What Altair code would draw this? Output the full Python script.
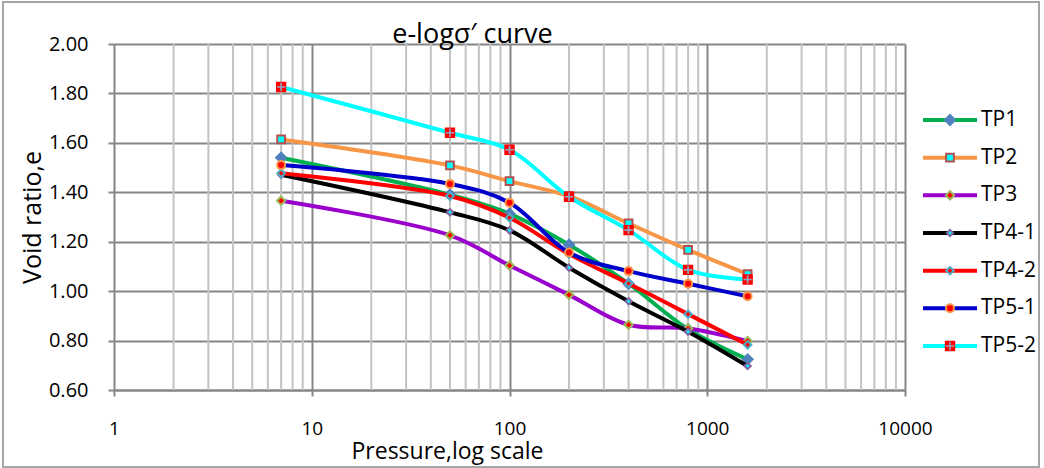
import altair as alt
import pandas as pd

# Consolidation test results: void ratio e at each pressure step
pressure = [7, 50, 100, 200, 400, 800, 1600]
series = ["TP1", "TP2", "TP3", "TP4-1", "TP4-2", "TP5-1", "TP5-2"]
tp1 = [1.540, 1.390, 1.313, 1.188, 1.030, 0.846, 0.724]
tp2 = [1.614, 1.509, 1.445, 1.384, 1.274, 1.167, 1.069]
tp3 = [1.366, 1.226, 1.104, 0.985, 0.864, 0.849, 0.798]
tp4_1 = [1.471, 1.319, 1.246, 1.095, 0.959, 0.836, 0.697]
tp4_2 = [1.477, 1.385, 1.297, 1.150, 1.031, 0.907, 0.783]
tp5_1 = [1.510, 1.434, 1.358, 1.156, 1.081, 1.030, 0.979]
tp5_2 = [1.826, 1.641, 1.572, 1.382, 1.247, 1.086, 1.047]
values = [tp1, tp2, tp3, tp4_1, tp4_2, tp5_1, tp5_2]

x_ticks = [1, 10, 100, 1000, 10000]
x_minor = [m * 10 ** d for d in range(4) for m in range(2, 10)]
y_ticks = [0.6, 0.8, 1.0, 1.2, 1.4, 1.6, 1.8, 2.0]

chart_title = "e-logσ′ curve"

# Series styling
line_colors = ["#00B050", "#F79646", "#9900CC", "#000000", "#FF0000", "#0000CC", "#00FFFF"]
marker_shapes = ["diamond", "square", "diamond", "diamond", "diamond", "circle", "square"]
marker_fills = ["#4F81BD", "#00FFFF", "#FF0000", "#00FFFF", "#FF0000", "#FF0000", "#FF0000"]
marker_strokes = ["#4F81BD", "#B3504D", "#9BBB59", "#8064A2", "#4BACC6", "#F79646", "#FF0000"]
marker_sizes = [100, 60, 70, 40, 55, 64, 70]
plus_path = "M-1,0H1M0,-1V1"

FONT = "Open Sans"
GRID_DARK = "#868686"
GRID_LIGHT = "#C3C3C3"

W, H = 791, 346

df = pd.DataFrame(
    [
        {"series": s, "pressure": p, "e": v}
        for s, vals in zip(series, values)
        for p, v in zip(pressure, vals)
    ]
)

x_scale = alt.Scale(type="log", domain=[1, 10000], nice=False)
y_scale = alt.Scale(domain=[0.6, 2.0], nice=False, zero=False)

x_axis = alt.Axis(
    values=x_ticks, format="d", title="Pressure,log scale",
    grid=True, gridColor=GRID_DARK, gridWidth=2,
    ticks=True, tickColor=GRID_DARK, tickWidth=2, tickSize=6,
    domain=True, domainColor=GRID_DARK, domainWidth=2,
    labelFont=FONT, labelFontSize=19, labelColor="black", labelPadding=23,
    labelFlush=False, labelOverlap=False,
    titleFont=FONT, titleFontSize=23, titleFontWeight="normal", titleColor="black",
    titlePadding=2, titleX=333, titleAlign="center", titleAnchor="start",
)
y_axis = alt.Axis(
    values=y_ticks, format=".2f", title="Void ratio,e",
    grid=True, gridColor=GRID_DARK, gridWidth=2,
    ticks=True, tickColor=GRID_DARK, tickWidth=2, tickSize=6,
    domain=False,
    labelFont=FONT, labelFontSize=20, labelColor="black", labelPadding=20,
    labelFlush=False,
    titleFont=FONT, titleFontSize=25, titleFontWeight="normal", titleColor="black",
    titlePadding=3,
)

X = alt.X("pressure:Q", scale=x_scale, axis=x_axis)
Y = alt.Y("e:Q", scale=y_scale, axis=y_axis)

# Minor logarithmic gridlines
minor = (
    alt.Chart(pd.DataFrame({"pressure": x_minor}))
    .mark_rule(color=GRID_LIGHT, strokeWidth=2)
    .encode(x=X)
)

plot_layers = [minor]
for i, s in enumerate(series):
    sub = df[df["series"] == s]
    base = alt.Chart(sub)
    plot_layers.append(
        base.mark_line(interpolate="catmull-rom", strokeWidth=4, color=line_colors[i])
        .encode(x=X, y=Y)
    )
    plot_layers.append(
        base.mark_point(
            shape=marker_shapes[i], size=marker_sizes[i], filled=True,
            fill=marker_fills[i], stroke=marker_strokes[i], strokeWidth=2, opacity=1,
        ).encode(x=X, y=Y)
    )
    if s == "TP5-2":
        plot_layers.append(
            base.mark_point(
                shape=plus_path, size=70, filled=False,
                stroke="#8FA8C8", strokeWidth=1.6, opacity=1,
            ).encode(x=X, y=Y)
        )

plot = alt.layer(*plot_layers)

# Legend drawn beside the plot
leg_df = pd.DataFrame({
    "series": series,
    "color": line_colors,
    "shape": marker_shapes,
    "fill": marker_fills,
    "stroke": marker_strokes,
    "size": marker_sizes,
})
leg_y = alt.Y("series:N", scale=alt.Scale(type="point", domain=series, range=[76, 302], padding=0), axis=None)
leg_base = alt.Chart(leg_df)
leg_line = leg_base.mark_rule(strokeWidth=4).encode(
    y=leg_y, x=alt.value(W + 18), x2=alt.value(W + 72),
    color=alt.Color("color:N", scale=None),
)
leg_mark = leg_base.mark_point(filled=True, strokeWidth=2, opacity=1).encode(
    y=leg_y, x=alt.value(W + 45),
    shape=alt.Shape("shape:N", scale=None),
    fill=alt.Fill("fill:N", scale=None),
    stroke=alt.Stroke("stroke:N", scale=None),
    size=alt.Size("size:Q", scale=None),
)
leg_plus = leg_base.transform_filter(alt.datum.series == "TP5-2").mark_point(
    shape=plus_path, size=70, filled=False, stroke="#8FA8C8", strokeWidth=1.6, opacity=1
).encode(y=leg_y, x=alt.value(W + 45))
leg_text = leg_base.mark_text(
    align="left", baseline="middle", font=FONT, fontSize=21, color="black"
).encode(y=leg_y, x=alt.value(W + 76), text="series:N")

# Outer chart frame and chart title
frame_base = alt.Chart(pd.DataFrame({"title": [chart_title]}))
frame = frame_base.mark_rect(
    fill=None, stroke="#A6A6A6", strokeWidth=2
).encode(
    x=alt.value(-111), x2=alt.value(W + 134),
    y=alt.value(-42), y2=alt.value(H + 77),
)
title = frame_base.mark_text(
    font=FONT, fontSize=27, color="black", align="center", baseline="alphabetic"
).encode(x=alt.value(W / 2 - 37), y=alt.value(-1), text="title:N")

legend = alt.layer(leg_line, leg_mark, leg_plus, leg_text, frame, title)

chart = (
    alt.layer(plot, legend)
    .resolve_scale(y="independent")
    .properties(
        width=W, height=H,
        autosize=alt.AutoSizeParams(type="none"),
        padding={"left": 114, "top": 44, "right": 1044 - 114 - W, "bottom": 468 - 44 - H},
        background="white",
    )
    .configure_view(stroke=None)
)

chart.save("out.html", embed_options={"renderer": "svg", "actions": False})
